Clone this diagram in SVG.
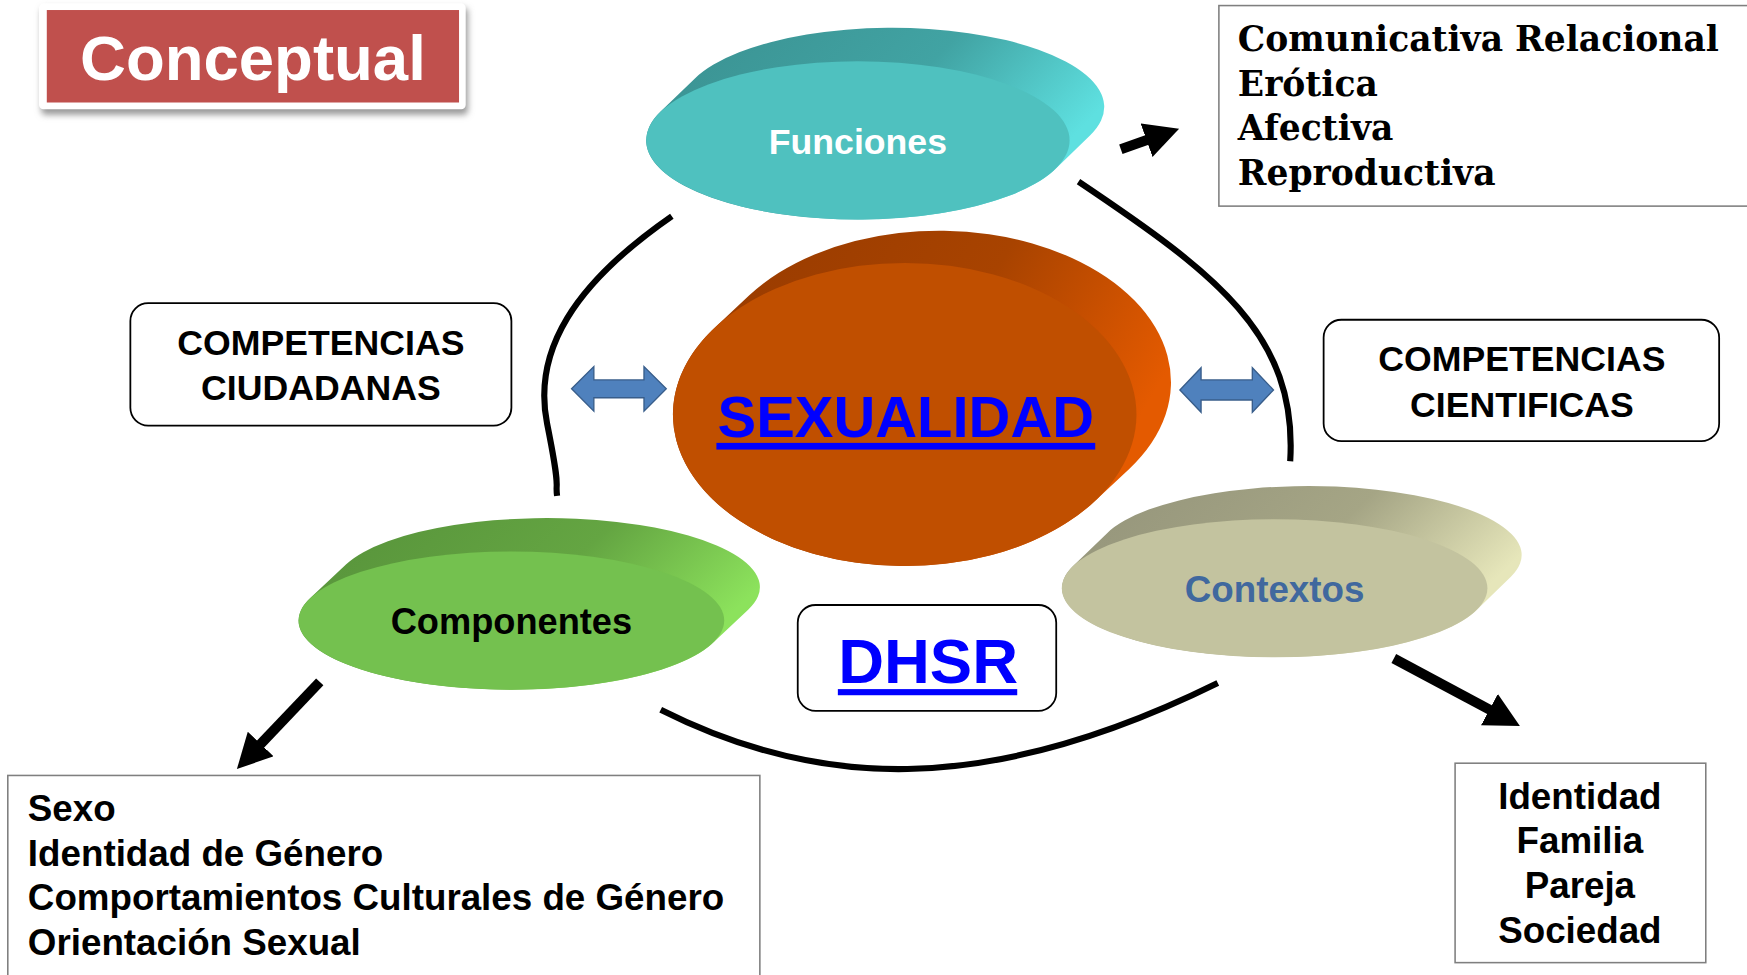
<svg xmlns="http://www.w3.org/2000/svg" width="1747" height="975" viewBox="0 0 1747 975">
<defs>
<style>
.sans{font-family:"Liberation Sans",Arial,sans-serif;font-weight:bold}
.serif{font-family:"DejaVu Serif","Liberation Serif",serif;font-weight:bold}
.conn{fill:none;stroke:#000;stroke-width:5.5}
.arr{fill:none;stroke:#000;stroke-width:9;marker-end:url(#ah)}
.dbl{fill:#4F81BD;stroke:#385D8A;stroke-width:1.2}
.rbox{fill:#fff;stroke:#000;stroke-width:1.6}
.pbox{fill:#fff;stroke:#7F7F7F;stroke-width:1.4}
</style>
<marker id="ah" markerUnits="userSpaceOnUse" markerWidth="32" markerHeight="32" viewBox="0 0 32 32" refX="1" refY="16" orient="auto">
<path d="M0,0 L31,16 L0,32 Z" fill="#000"/>
</marker>
<linearGradient id="gF" x1="0" y1="0" x2="1" y2="0.4"><stop offset="0" stop-color="#3A9090"/><stop offset="0.6" stop-color="#41A3A3"/><stop offset="1" stop-color="#5EE0E0"/></linearGradient>
<linearGradient id="gS" x1="0" y1="0" x2="1" y2="0.4"><stop offset="0" stop-color="#963A00"/><stop offset="0.6" stop-color="#A84300"/><stop offset="1" stop-color="#E45A00"/></linearGradient>
<linearGradient id="gC" x1="0" y1="0" x2="1" y2="0.4"><stop offset="0" stop-color="#56913A"/><stop offset="0.6" stop-color="#64A542"/><stop offset="1" stop-color="#8CE25C"/></linearGradient>
<linearGradient id="gX" x1="0" y1="0" x2="1" y2="0.4"><stop offset="0" stop-color="#93937A"/><stop offset="0.6" stop-color="#A5A585"/><stop offset="1" stop-color="#E6E6BA"/></linearGradient>
<filter id="sh" x="-10%" y="-20%" width="120%" height="150%"><feGaussianBlur stdDeviation="3"/></filter>
</defs>
<rect width="1747" height="975" fill="#fff"/>
<g transform="scale(1.11416)">
<g id="conceptual">
<rect x="37" y="7" width="383" height="96" rx="4" fill="#9A9A9A" filter="url(#sh)"/>
<rect x="35" y="3" width="383" height="95" rx="4" fill="#fff"/>
<rect x="42" y="9" width="370" height="83" fill="#C0504D"/>
<text x="227" y="72" class="sans" font-size="57" fill="#fff" text-anchor="middle">Conceptual</text>
</g>
<g id="connectors">
<path class="conn" d="M603,194 C515,255 478,315 491,380 S498,430 500,445"/>
<path class="conn" d="M968,163 C1090,245 1165,300 1158,414"/>
<path class="conn" d="M593,637 C730,706 880,718 1093,613"/>
<line class="arr" x1="1006" y1="134" x2="1030" y2="125.5"/>
<line class="arr" x1="287" y1="612" x2="233.3" y2="668.5"/>
<line class="arr" x1="1251" y1="591" x2="1337.7" y2="637.4"/>
<polygon class="dbl" points="513,349 533,329 533,341 578,341 578,329 598,349 578,369 578,357 533,357 533,369"/>
<polygon class="dbl" points="1059,350 1078,330 1078,341 1124,341 1124,330 1143,350 1124,370 1124,359 1078,359 1078,370"/>
</g>
<g id="funciones">
<path fill="url(#gF)" d="M592.7,100.4 L623.7,70.4 A190,71 0 0 1 978.3,121.6 L947.3,151.6 A190,71 0 0 1 592.7,100.4 Z"/>
<ellipse cx="770" cy="126" rx="190" ry="71" fill="#4FC1BF"/>
<text x="770" y="138" class="sans" font-size="32" fill="#fff" text-anchor="middle">Funciones</text>
</g>
<g id="sexualidad">
<path fill="url(#gS)" d="M641.5,294.1 L672.5,265.1 A208,136 0 0 1 1013.5,420.9 L982.5,449.9 A208,136 0 0 1 641.5,294.1 Z"/>
<ellipse cx="812" cy="372" rx="208" ry="136" fill="#C04F00"/>
<text x="813" y="392" class="sans" font-size="52" fill="#0000FF" text-anchor="middle">SEXUALIDAD</text>
<rect x="643" y="397.5" width="340" height="6" fill="#0000FF"/>
</g>
<g id="componentes">
<path fill="url(#gC)" d="M278.5,536.7 L310.5,506.7 A191,62 0 0 1 671.5,547.3 L639.5,577.3 A191,62 0 0 1 278.5,536.7 Z"/>
<ellipse cx="459" cy="557" rx="191" ry="62" fill="#74C14F"/>
<text x="459" y="569" class="sans" font-size="32.5" fill="#000" text-anchor="middle">Componentes</text>
</g>
<g id="contextos">
<path fill="url(#gX)" d="M962.9,508.3 L993.9,478.3 A191,62 0 0 1 1356.1,517.7 L1325.1,547.7 A191,62 0 0 1 962.9,508.3 Z"/>
<ellipse cx="1144" cy="528" rx="191" ry="62" fill="#C3C39F"/>
<text x="1144" y="540" class="sans" font-size="33" fill="#40689E" text-anchor="middle">Contextos</text>
</g>
<g id="competencias-ciudadanas">
<rect class="rbox" x="117" y="272" width="342" height="110" rx="16"/>
<text x="288" y="319" class="sans" font-size="32" text-anchor="middle">COMPETENCIAS</text>
<text x="288" y="359" class="sans" font-size="32" text-anchor="middle">CIUDADANAS</text>
</g>
<g id="competencias-cientificas">
<rect class="rbox" x="1188" y="287" width="355" height="109" rx="16"/>
<text x="1366" y="333" class="sans" font-size="32" text-anchor="middle">COMPETENCIAS</text>
<text x="1366" y="374" class="sans" font-size="32" text-anchor="middle">CIENTIFICAS</text>
</g>
<g id="dhsr">
<rect class="rbox" x="716" y="543" width="232" height="95" rx="16"/>
<text x="833" y="613" class="sans" font-size="57" fill="#0000FF" text-anchor="middle">DHSR</text>
<rect x="752" y="618.5" width="161" height="5.5" fill="#0000FF"/>
</g>
<g id="funciones-lista">
<rect class="pbox" x="1094" y="5" width="480" height="180"/>
<text class="serif" font-size="31" x="1111" y="46">Comunicativa Relacional</text>
<text class="serif" font-size="31" x="1111" y="86">Erótica</text>
<text class="serif" font-size="31" x="1111" y="126">Afectiva</text>
<text class="serif" font-size="31" x="1111" y="166">Reproductiva</text>
</g>
<g id="componentes-lista">
<rect class="pbox" x="7" y="696" width="675" height="190"/>
<text class="sans" font-size="33" x="25" y="737">Sexo</text>
<text class="sans" font-size="33" x="25" y="777">Identidad de Género</text>
<text class="sans" font-size="33" x="25" y="817">Comportamientos Culturales de Género</text>
<text class="sans" font-size="33" x="25" y="857">Orientación Sexual</text>
</g>
<g id="contextos-lista">
<rect class="pbox" x="1306" y="685" width="225" height="179"/>
<text class="sans" font-size="33" x="1418" y="726" text-anchor="middle">Identidad</text>
<text class="sans" font-size="33" x="1418" y="766" text-anchor="middle">Familia</text>
<text class="sans" font-size="33" x="1418" y="806" text-anchor="middle">Pareja</text>
<text class="sans" font-size="33" x="1418" y="846" text-anchor="middle">Sociedad</text>
</g>
</g>
</svg>
